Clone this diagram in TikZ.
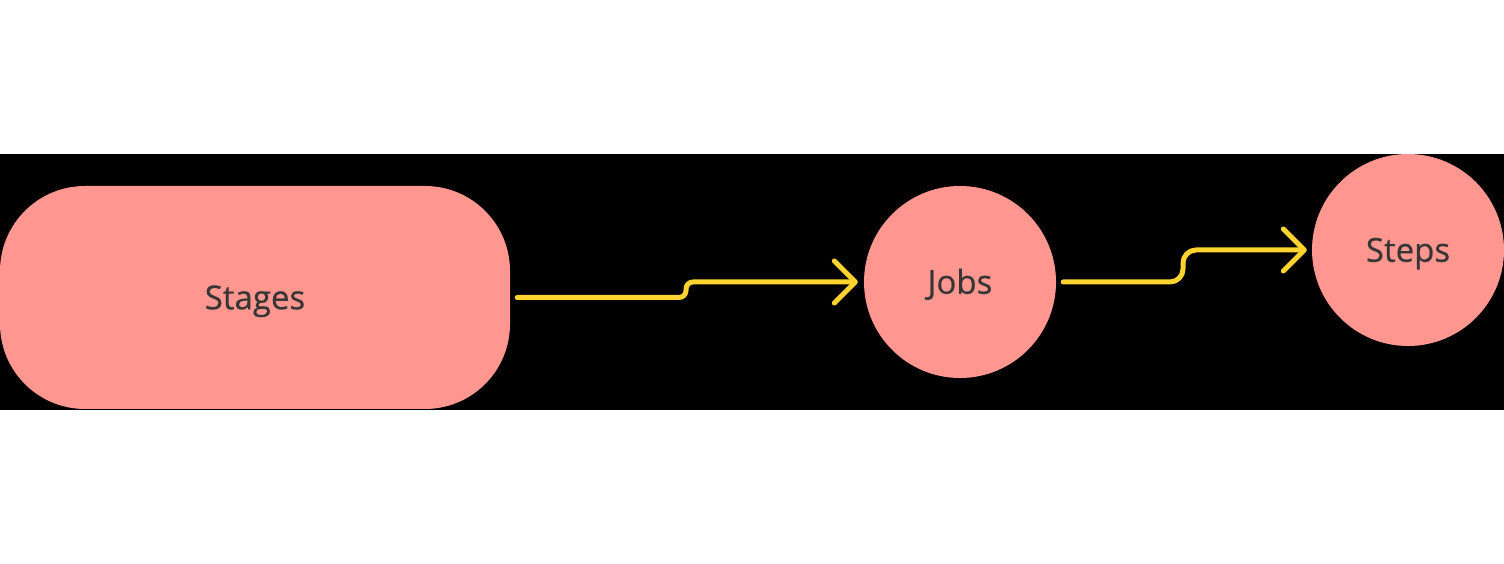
\documentclass[tikz,border=0pt]{standalone}
\usepackage{fontspec}
\newfontfamily\labelfont{Open Sans}[FakeBold=0.5]
\usetikzlibrary{arrows.meta, positioning}
\definecolor{flowsalmon}{HTML}{FF968F}
\definecolor{flowyellow}{HTML}{FDD32F}
\definecolor{flowtext}{HTML}{363636}

\begin{document}
\begin{tikzpicture}[x=1pt, y=1pt,
        every node/.style={font=\labelfont\fontsize{33}{38}\selectfont, text=flowtext,
            text height=23.5pt, text depth=0pt},
        box/.style={rectangle, fill=flowsalmon, rounded corners=85pt, inner sep=0pt},
        ball/.style={circle, fill=flowsalmon, minimum size=192pt, inner sep=0pt},
        flow/.style={draw=flowyellow, line width=5pt, line cap=round, line join=round,
            -{Straight Barb[length=21pt, width=42pt, round]}}]
        \useasboundingbox[fill=white] (0,0) rectangle (1504,564);
        \fill[black] (0,154) rectangle (1504,410);

        \node[box, minimum width=510pt, minimum height=223pt] (stages) at (255,266.5) {Stages};
        \node[ball] (jobs) at (960,282) {Jobs};
        \node[ball] (steps) at (1408,314) {Steps};

        % connectors with a small step in the middle
        \draw[flow, rounded corners=7pt, shorten <=7pt, shorten >=6pt]
            (stages.east) -- (686,266.5) -- (686,282) -- (jobs.west);
        \draw[flow, rounded corners=13pt, shorten <=7pt, shorten >=5pt]
            (jobs.east) -- (1183,282) -- (1183,314) -- (steps.west);
    \end{tikzpicture}
\end{document}
